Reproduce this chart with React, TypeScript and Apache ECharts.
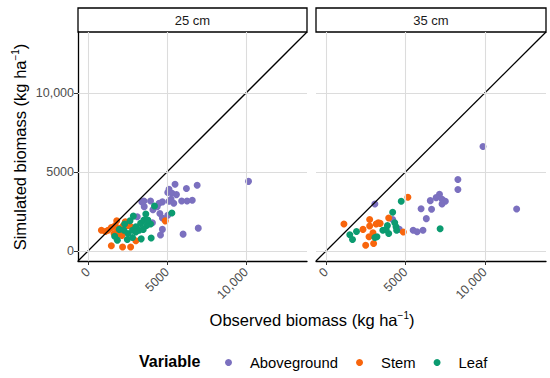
import React, { useEffect, useRef } from "react";
import * as echarts from "echarts";

const panels = ["25 cm", "35 cm"];
const seriesNames = ["Aboveground", "Stem", "Leaf"];
const colors = ["#7b70bf", "#f8650c", "#0b9b70"];
const tickValues = [0, 5000, 10000];
const tickLabels = ["0", "5000", "10,000"];
const AXIS_MIN = -640;
const AXIS_MAX = 13850;

const ab25 = [[10150,4400],[6900,4150],[5500,4220],[6220,3950],[5120,3900],[5040,3690],[5310,3650],[5590,3560],[5250,3270],[5120,3140],[5420,3010],[5920,3160],[6260,3160],[6590,3200],[3950,3160],[3530,3160],[3550,2800],[4490,3010],[4700,3100],[4370,2800],[4540,2370],[5040,2250],[4700,2080],[4070,1780],[4700,1360],[4580,1000],[6010,1060],[6970,1440],[3110,2160],[3400,3100],[4100,2600]];
const stem25 = [[840,1310],[1090,1230],[1260,1310],[1470,1480],[1810,1910],[1720,1610],[1850,1400],[2060,1440],[2230,1610],[2520,1610],[2650,1570],[2350,1840],[1970,1100],[2140,980],[1470,320],[2180,250],[2690,250],[3020,640],[4880,1900],[1640,1100]];
const leaf25 = [[2860,2200],[3650,2330],[4200,2840],[5300,2400],[3950,1700],[3990,810],[3360,760],[2810,850],[2480,720],[1850,680],[1680,930],[1970,1360],[2270,1310],[2520,1100],[2810,1310],[3020,1530],[3320,1740],[3530,1950],[3700,1610],[3230,1310],[3020,1190],[2650,1910],[2310,1700],[3490,1360],[3780,1950]];
const ab35 = [[9880,6610],[12000,2650],[8300,4520],[8300,3880],[7140,3580],[6930,3370],[7300,3270],[7510,3140],[7300,2970],[6560,3180],[5980,2670],[6640,2630],[6310,2040],[5480,1310],[5730,1210],[6100,1310],[3070,2970],[4190,1990],[4610,1360]];
const stem35 = [[1120,1700],[5150,3390],[2740,1990],[2320,1360],[2740,1570],[3150,1700],[3400,1740],[3940,2080],[2700,890],[2950,1150],[2490,360],[2990,470],[4860,1190],[3280,1780]];
const leaf35 = [[4730,3140],[4190,2440],[1490,1020],[1660,720],[1910,1230],[3200,890],[3070,850],[3570,1310],[3860,1610],[4320,1780],[4400,1530],[3940,1100],[3780,1360],[7180,1400],[4440,1310]];

const panelData = [
  [ab25, stem25, leaf25],
  [ab35, stem35, leaf35],
];

const FONT = "'Liberation Sans', Arial, sans-serif";
const grids = [
  { left: 78, top: 32, width: 229, height: 229 },
  { left: 316, top: 32, width: 230, height: 229 },
];

export default function App() {
  const ref = useRef<HTMLDivElement>(null);
  useEffect(() => {
    if (!ref.current) return;
    const chart = echarts.init(ref.current, null, { renderer: "svg" });
    const fmt = (v: number) => {
      const i = tickValues.indexOf(v);
      return i >= 0 ? tickLabels[i] : "";
    };
    const xAxis = grids.map((_, i) => ({
      type: "value",
      gridIndex: i,
      min: AXIS_MIN,
      max: AXIS_MAX,
      axisLine: { show: true, onZero: false, lineStyle: { color: "#000", width: 1.3 } },
      axisTick: { show: true, customValues: tickValues, length: 4, lineStyle: { color: "#333" } },
      axisLabel: {
        show: true,
        customValues: tickValues,
        formatter: fmt,
        rotate: 45,
        margin: 9,
        color: "#4d4d4d",
        fontSize: 12.5,
        fontFamily: FONT,
      },
      splitLine: { show: false },
    }));
    const yAxis = grids.map((_, i) => ({
      type: "value",
      gridIndex: i,
      min: AXIS_MIN,
      max: AXIS_MAX,
      axisLine: { show: i === 0, onZero: false, lineStyle: { color: "#000", width: 1.3 } },
      axisTick: { show: i === 0, customValues: tickValues, length: 4, lineStyle: { color: "#333" } },
      axisLabel: {
        show: i === 0,
        customValues: tickValues,
        formatter: fmt,
        margin: 4,
        color: "#4d4d4d",
        fontSize: 12.5,
        fontFamily: FONT,
      },
      splitLine: { show: false },
    }));

    const series: any[] = [];
    grids.forEach((_, i) => {
      series.push({
        type: "line",
        xAxisIndex: i,
        yAxisIndex: i,
        data: [],
        silent: true,
        z: 1,
        markLine: {
          silent: true,
          symbol: "none",
          label: { show: false },
          lineStyle: { color: "#dcdcdc", width: 1.1, type: "solid" },
          data: [
            ...tickValues.map((v) => ({ xAxis: v })),
            ...tickValues.map((v) => ({ yAxis: v })),
          ],
        },
      });
      panelData[i].forEach((d, s) => {
        series.push({
          name: seriesNames[s],
          type: "scatter",
          xAxisIndex: i,
          yAxisIndex: i,
          data: d,
          symbolSize: 7,
          itemStyle: { color: colors[s], opacity: 1 },
          z: 3,
        });
      });
      series.push({
        type: "line",
        xAxisIndex: i,
        yAxisIndex: i,
        data: [
          [AXIS_MIN, AXIS_MIN],
          [AXIS_MAX, AXIS_MAX],
        ],
        showSymbol: false,
        symbol: "none",
        silent: true,
        lineStyle: { color: "#000", width: 1.3 },
        z: 4,
      });
    });

    const graphic: any[] = [];
    grids.forEach((g, i) => {
      graphic.push({
        type: "rect",
        shape: { x: g.left, y: 8, width: g.width, height: 24 },
        style: { fill: "#fff", stroke: "#000", lineWidth: 1.3 },
      });
      graphic.push({
        type: "text",
        x: g.left + g.width / 2,
        y: 20,
        style: {
          text: panels[i],
          align: "center",
          verticalAlign: "middle",
          fontSize: 13,
          fontFamily: FONT,
          fill: "#1a1a1a",
        },
      });
    });
    const rich = {
      n: { fontSize: 16.5, fontFamily: FONT, color: "#000" },
      sup: { fontSize: 10, fontFamily: FONT, color: "#000", padding: [0, 0, 9, 0] },
    };
    graphic.push({
      type: "text",
      x: 312,
      y: 320,
      style: {
        text: "{n|Observed biomass (kg ha}{sup|−1}{n|)}",
        rich,
        align: "center",
        verticalAlign: "middle",
      },
    });
    graphic.push({
      type: "text",
      x: 20,
      y: 147,
      rotation: Math.PI / 2,
      style: {
        text: "{n|Simulated biomass (kg ha}{sup|−1}{n|)}",
        rich,
        align: "center",
        verticalAlign: "middle",
      },
    });
    graphic.push({
      type: "text",
      x: 139,
      y: 361,
      style: {
        text: "Variable",
        fontSize: 16,
        fontWeight: "bold",
        fontFamily: FONT,
        fill: "#000",
        verticalAlign: "middle",
      },
    });

    chart.setOption({
      animation: false,
      grid: grids.map((g) => ({ ...g, containLabel: false })),
      xAxis,
      yAxis,
      series,
      graphic,
      legend: {
        data: seriesNames.map((n) => ({ name: n, icon: "circle" })),
        left: 220,
        top: 350,
        itemWidth: 7,
        itemHeight: 7,
        itemGap: 18,
        textStyle: { fontSize: 14.8, fontFamily: FONT, color: "#000", padding: [0, 0, 0, 13] },
      },
    });
    return () => chart.dispose();
  }, []);
  return (
    <div
      ref={ref}
      style={{ position: "fixed", left: 0, top: 0, width: 550, height: 378, background: "#fff" }}
    />
  );
}
